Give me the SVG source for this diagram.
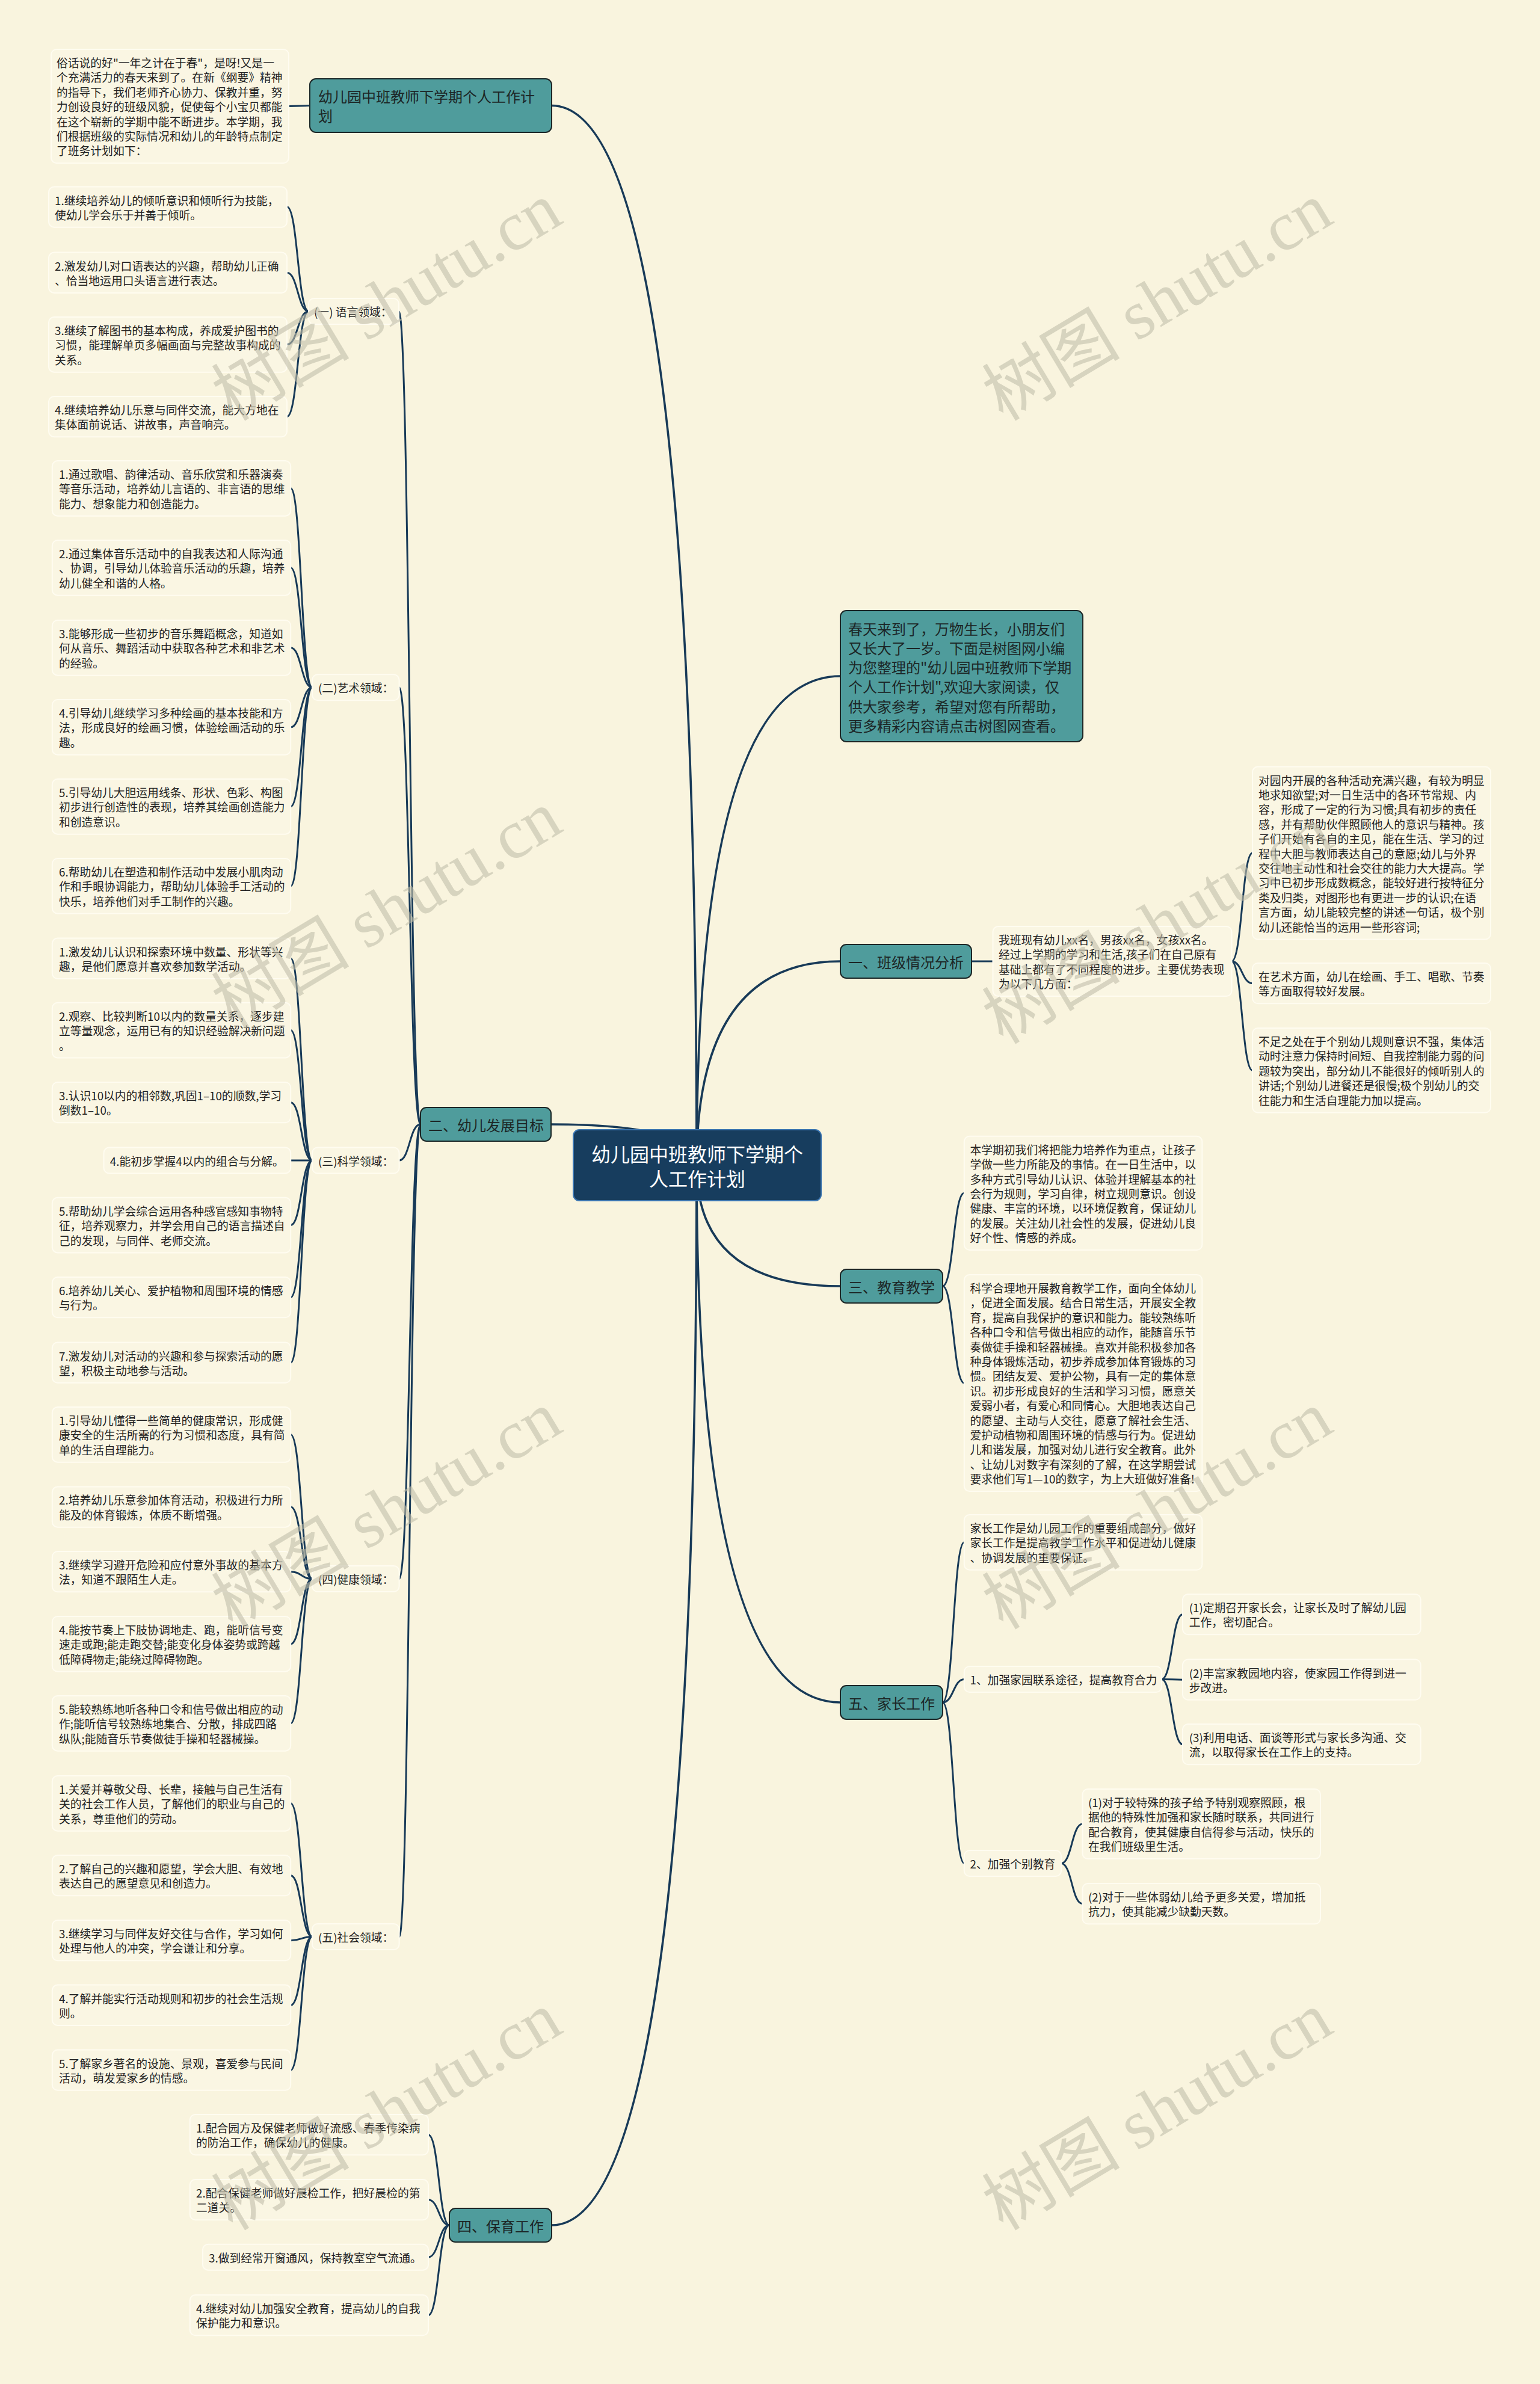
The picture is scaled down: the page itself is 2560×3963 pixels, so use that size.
<svg xmlns="http://www.w3.org/2000/svg" width="2560" height="3963" viewBox="0 0 2560 3963">
<style>
text{font-family:"Noto Sans CJK SC","Liberation Sans",sans-serif;dominant-baseline:central}
.bg{fill:#f9f4de}
.lf rect{fill:#faf6e3;stroke:#fffcf0;stroke-width:2}
.lf text{font-size:18.8px;fill:#222}
.mn rect{fill:#4f9c9c;stroke:#1c2626;stroke-width:2}
.mn text{font-size:24px;fill:#1c2626}
.rt rect{fill:#173d5e;stroke:#3a74b0;stroke-width:2}
.rt text{font-size:32px;fill:#fff;text-anchor:middle}
.cn path{fill:none;stroke:#183a58;stroke-width:3;stroke-linecap:round}
.cn .tk{stroke-width:3.6}
.wm text{font-family:"Liberation Serif","Noto Sans CJK SC",serif;font-size:115px;fill:#c2bfab;opacity:0.6;text-anchor:middle;dominant-baseline:auto}
</style>
<rect class="bg" x="0" y="0" width="2560" height="3963"/>

<g class="cn" id="connectors">
<path class="tk" d="M1158 1937 Q1158 175.5 917 175.5"/>
<path class="tk" d="M1158 1937 Q1158 1124 1397 1124"/>
<path class="tk" d="M1158 1937 Q1158 1598 1397 1598"/>
<path class="tk" d="M1158 1937 Q1158 1869 916 1869"/>
<path class="tk" d="M1158 1937 Q1158 2138 1397 2138"/>
<path class="tk" d="M1158 1937 Q1158 2830 1397 2830"/>
<path class="tk" d="M1158 1937 Q1158 3699 917 3699"/>
<path d="M515 175.5 L480 176.6"/>
<path d="M513 517.5 C495 517.5 495 343.65 477 343.65"/>
<path d="M513 517.5 C495 517.5 495 453.25 477 453.25"/>
<path d="M513 517.5 C495 517.5 495 572.85 477 572.85"/>
<path d="M513 517.5 C495 517.5 495 692.65 477 692.65"/>
<path d="M519 1142.8 C501 1142.8 501 811.85 483.2 811.85"/>
<path d="M519 1142.8 C501 1142.8 501 943.85 483.2 943.85"/>
<path d="M519 1142.8 C501 1142.8 501 1076.85 483.2 1076.85"/>
<path d="M519 1142.8 C501 1142.8 501 1208.85 483.2 1208.85"/>
<path d="M519 1142.8 C501 1142.8 501 1340.85 483.2 1340.85"/>
<path d="M519 1142.8 C501 1142.8 501 1472.85 483.2 1472.85"/>
<path d="M519 1929 C501 1929 501 1593.25 483.2 1593.25"/>
<path d="M519 1929 C501 1929 501 1712.55 483.2 1712.55"/>
<path d="M519 1929 C501 1929 501 1832.65 483.2 1832.65"/>
<path d="M519 1929 L483.2 1929"/>
<path d="M519 1929 C501 1929 501 2036.55 483.2 2036.55"/>
<path d="M519 1929 C501 1929 501 2156.65 483.2 2156.65"/>
<path d="M519 1929 C501 1929 501 2265.15 483.2 2265.15"/>
<path d="M519 2624.5 C501 2624.5 501 2384.85 483.2 2384.85"/>
<path d="M519 2624.5 C501 2624.5 501 2505.05 483.2 2505.05"/>
<path d="M519 2624.5 C501 2624.5 501 2612.65 483.2 2612.65"/>
<path d="M519 2624.5 C501 2624.5 501 2732.85 483.2 2732.85"/>
<path d="M519 2624.5 C501 2624.5 501 2864.85 483.2 2864.85"/>
<path d="M519 3219.5 C501 3219.5 501 2997.85 483.2 2997.85"/>
<path d="M519 3219.5 C501 3219.5 501 3117.65 483.2 3117.65"/>
<path d="M519 3219.5 C501 3219.5 501 3225.65 483.2 3225.65"/>
<path d="M519 3219.5 C501 3219.5 501 3333.25 483.2 3333.25"/>
<path d="M519 3219.5 C501 3219.5 501 3441.15 483.2 3441.15"/>
<path d="M699 1869 C681 1869 681 517.5 663 517.5"/>
<path d="M699 1869 C681 1869 681 1142.8 663.6 1142.8"/>
<path d="M699 1869 C681 1869 681 1929 663.6 1929"/>
<path d="M699 1869 C681 1869 681 2624.5 663.6 2624.5"/>
<path d="M699 1869 C681 1869 681 3219.5 663.6 3219.5"/>
<path d="M747 3699 C729.5 3699 729.5 3548.65 712 3548.65"/>
<path d="M747 3699 C729.5 3699 729.5 3656.65 712 3656.65"/>
<path d="M747 3699 C729.5 3699 729.5 3752.2 712 3752.2"/>
<path d="M747 3699 C729.5 3699 729.5 3848.65 712 3848.65"/>
<path d="M1615 1598 L1650.5 1598"/>
<path d="M2047.4 1598 C2064.7 1598 2064.7 1418.05 2082 1418.05"/>
<path d="M2047.4 1598 C2064.7 1598 2064.7 1634.65 2082 1634.65"/>
<path d="M2047.4 1598 C2064.7 1598 2064.7 1779.25 2082 1779.25"/>
<path d="M1567 2138 C1584.9 2138 1584.9 1983.35 1602.8 1983.35"/>
<path d="M1567 2138 C1584.9 2138 1584.9 2299.05 1602.8 2299.05"/>
<path d="M1567 2830 C1584.9 2830 1584.9 2563.85 1602.8 2563.85"/>
<path d="M1567 2830 C1584.9 2830 1584.9 2791.5 1602.8 2791.5"/>
<path d="M1567 2830 C1584.9 2830 1584.9 3097.5 1602.8 3097.5"/>
<path d="M1931 2791.5 C1948.5 2791.5 1948.5 2683.65 1966 2683.65"/>
<path d="M1931 2791.5 C1948.5 2791.5 1948.5 2792.15 1966 2792.15"/>
<path d="M1931 2791.5 C1948.5 2791.5 1948.5 2899.65 1966 2899.65"/>
<path d="M1764 3097.5 C1781.75 3097.5 1781.75 3032.05 1799.5 3032.05"/>
<path d="M1764 3097.5 C1781.75 3097.5 1781.75 3164.65 1799.5 3164.65"/>
</g>

<g id="root" class="rt">
<rect x="953" y="1878" width="412" height="118" rx="10"/>
<text x="1159" y="1917">幼儿园中班教师下学期个</text>
<text x="1159" y="1958">人工作计划</text>
</g>

<g id="b-title" class="mn">
<rect x="515" y="131" width="402" height="89" rx="10"/>
<text x="529" y="159">幼儿园中班教师下学期个人工作计</text>
<text x="529" y="191">划</text>
</g>
<g id="b-spring" class="mn">
<rect x="1397" y="1015" width="403" height="218" rx="10"/>
<text x="1410" y="1044.6">春天来到了，万物生长，小朋友们</text>
<text x="1410" y="1076.7">又长大了一岁。下面是树图网小编</text>
<text x="1410" y="1108.8">为您整理的"幼儿园中班教师下学期</text>
<text x="1410" y="1140.9">个人工作计划",欢迎大家阅读，仅</text>
<text x="1410" y="1173">供大家参考，希望对您有所帮助，</text>
<text x="1410" y="1205.1">更多精彩内容请点击树图网查看。</text>
</g>
<g id="b-1" class="mn"><rect x="1397" y="1570" width="218" height="56" rx="10"/><text x="1410" y="1598">一、班级情况分析</text></g>
<g id="b-2" class="mn"><rect x="699" y="1841" width="217" height="56" rx="10"/><text x="712" y="1869">二、幼儿发展目标</text></g>
<g id="b-3" class="mn"><rect x="1397" y="2110" width="170" height="56" rx="10"/><text x="1410" y="2138">三、教育教学</text></g>
<g id="b-5" class="mn"><rect x="1397" y="2802" width="170" height="56" rx="10"/><text x="1410" y="2830">五、家长工作</text></g>
<g id="b-4" class="mn"><rect x="747" y="3671" width="170" height="56" rx="10"/><text x="760" y="3699">四、保育工作</text></g>

<g id="intro" class="lf"><rect x="85" y="82" width="395" height="189.3" rx="9"/>
<text x="94" y="103.5">俗话说的好"一年之计在于春"，是呀!又是一</text>
<text x="94" y="127.9">个充满活力的春天来到了。在新《纲要》精神</text>
<text x="94" y="152.3">的指导下，我们老师齐心协力、保教并重，努</text>
<text x="94" y="176.7">力创设良好的班级风貌，促使每个小宝贝都能</text>
<text x="94" y="201.1">在这个崭新的学期中能不断进步。本学期，我</text>
<text x="94" y="225.5">们根据班级的实际情况和幼儿的年龄特点制定</text>
<text x="94" y="249.9">了班务计划如下：</text></g>

<g id="s-lang" class="lf"><rect x="513" y="496" width="150" height="43" rx="9"/><text x="522" y="517.5">(一) 语言领域：</text></g>
<g id="lang1" class="lf"><rect x="81" y="310.5" width="396" height="67.3" rx="9"/>
<text x="91" y="332">1.继续培养幼儿的倾听意识和倾听行为技能，</text>
<text x="91" y="356.4">使幼儿学会乐于并善于倾听。</text></g>
<g id="lang2" class="lf"><rect x="81" y="419.6" width="396" height="67.3" rx="9"/>
<text x="91" y="441.1">2.激发幼儿对口语表达的兴趣，帮助幼儿正确</text>
<text x="91" y="465.5">、恰当地运用口头语言进行表达。</text></g>
<g id="lang3" class="lf"><rect x="81" y="527" width="396" height="91.7" rx="9"/>
<text x="91" y="548.5">3.继续了解图书的基本构成，养成爱护图书的</text>
<text x="91" y="572.9">习惯，能理解单页多幅画面与完整故事构成的</text>
<text x="91" y="597.3">关系。</text></g>
<g id="lang4" class="lf"><rect x="81" y="659" width="396" height="67.3" rx="9"/>
<text x="91" y="680.5">4.继续培养幼儿乐意与同伴交流，能大方地在</text>
<text x="91" y="704.9">集体面前说话、讲故事，声音响亮。</text></g>

<g id="s-art" class="lf"><rect x="519" y="1121.3" width="144.6" height="43" rx="9"/><text x="529" y="1142.8">(二)艺术领域：</text></g>
<g id="art1" class="lf"><rect x="86.8" y="766" width="396.4" height="91.7" rx="9"/>
<text x="98" y="787.5">1.通过歌唱、韵律活动、音乐欣赏和乐器演奏</text>
<text x="98" y="811.9">等音乐活动，培养幼儿言语的、非言语的思维</text>
<text x="98" y="836.3">能力、想象能力和创造能力。</text></g>
<g id="art2" class="lf"><rect x="86.8" y="898" width="396.4" height="91.7" rx="9"/>
<text x="98" y="919.5">2.通过集体音乐活动中的自我表达和人际沟通</text>
<text x="98" y="943.9">、协调，引导幼儿体验音乐活动的乐趣，培养</text>
<text x="98" y="968.3">幼儿健全和谐的人格。</text></g>
<g id="art3" class="lf"><rect x="86.8" y="1031" width="396.4" height="91.7" rx="9"/>
<text x="98" y="1052.5">3.能够形成一些初步的音乐舞蹈概念，知道如</text>
<text x="98" y="1076.9">何从音乐、舞蹈活动中获取各种艺术和非艺术</text>
<text x="98" y="1101.3">的经验。</text></g>
<g id="art4" class="lf"><rect x="86.8" y="1163" width="396.4" height="91.7" rx="9"/>
<text x="98" y="1184.5">4.引导幼儿继续学习多种绘画的基本技能和方</text>
<text x="98" y="1208.9">法，形成良好的绘画习惯，体验绘画活动的乐</text>
<text x="98" y="1233.3">趣。</text></g>
<g id="art5" class="lf"><rect x="86.8" y="1295" width="396.4" height="91.7" rx="9"/>
<text x="98" y="1316.5">5.引导幼儿大胆运用线条、形状、色彩、构图</text>
<text x="98" y="1340.9">初步进行创造性的表现，培养其绘画创造能力</text>
<text x="98" y="1365.3">和创造意识。</text></g>
<g id="art6" class="lf"><rect x="86.8" y="1427" width="396.4" height="91.7" rx="9"/>
<text x="98" y="1448.5">6.帮助幼儿在塑造和制作活动中发展小肌肉动</text>
<text x="98" y="1472.9">作和手眼协调能力，帮助幼儿体验手工活动的</text>
<text x="98" y="1497.3">快乐，培养他们对手工制作的兴趣。</text></g>

<g id="s-sci" class="lf"><rect x="519" y="1907.5" width="144.6" height="43" rx="9"/><text x="529" y="1929">(三)科学领域：</text></g>
<g id="sci1" class="lf"><rect x="86.8" y="1559.6" width="396.4" height="67.3" rx="9"/>
<text x="98" y="1581.1">1.激发幼儿认识和探索环境中数量、形状等兴</text>
<text x="98" y="1605.5">趣，是他们愿意并喜欢参加数学活动。</text></g>
<g id="sci2" class="lf"><rect x="86.8" y="1666.7" width="396.4" height="91.7" rx="9"/>
<text x="98" y="1688.2">2.观察、比较判断10以内的数量关系，逐步建</text>
<text x="98" y="1712.6">立等量观念，运用已有的知识经验解决新问题</text>
<text x="98" y="1737">。</text></g>
<g id="sci3" class="lf"><rect x="86.8" y="1799" width="396.4" height="67.3" rx="9"/>
<text x="98" y="1820.5">3.认识10以内的相邻数,巩固1–10的顺数,学习</text>
<text x="98" y="1844.9">倒数1–10。</text></g>
<g id="sci4" class="lf"><rect x="172.5" y="1907.5" width="310.7" height="43" rx="9"/>
<text x="182.8" y="1929">4.能初步掌握4以内的组合与分解。</text></g>
<g id="sci5" class="lf"><rect x="86.8" y="1990.7" width="396.4" height="91.7" rx="9"/>
<text x="98" y="2012.2">5.帮助幼儿学会综合运用各种感官感知事物特</text>
<text x="98" y="2036.6">征，培养观察力，并学会用自己的语言描述自</text>
<text x="98" y="2061">己的发现，与同伴、老师交流。</text></g>
<g id="sci6" class="lf"><rect x="86.8" y="2123" width="396.4" height="67.3" rx="9"/>
<text x="98" y="2144.5">6.培养幼儿关心、爱护植物和周围环境的情感</text>
<text x="98" y="2168.9">与行为。</text></g>
<g id="sci7" class="lf"><rect x="86.8" y="2231.5" width="396.4" height="67.3" rx="9"/>
<text x="98" y="2253">7.激发幼儿对活动的兴趣和参与探索活动的愿</text>
<text x="98" y="2277.4">望，积极主动地参与活动。</text></g>

<g id="s-hea" class="lf"><rect x="519" y="2603" width="144.6" height="43" rx="9"/><text x="529" y="2624.5">(四)健康领域：</text></g>
<g id="hea1" class="lf"><rect x="86.8" y="2339" width="396.4" height="91.7" rx="9"/>
<text x="98" y="2360.5">1.引导幼儿懂得一些简单的健康常识，形成健</text>
<text x="98" y="2384.9">康安全的生活所需的行为习惯和态度，具有简</text>
<text x="98" y="2409.3">单的生活自理能力。</text></g>
<g id="hea2" class="lf"><rect x="86.8" y="2471.4" width="396.4" height="67.3" rx="9"/>
<text x="98" y="2492.9">2.培养幼儿乐意参加体育活动，积极进行力所</text>
<text x="98" y="2517.3">能及的体育锻炼，体质不断增强。</text></g>
<g id="hea3" class="lf"><rect x="86.8" y="2579" width="396.4" height="67.3" rx="9"/>
<text x="98" y="2600.5">3.继续学习避开危险和应付意外事故的基本方</text>
<text x="98" y="2624.9">法，知道不跟陌生人走。</text></g>
<g id="hea4" class="lf"><rect x="86.8" y="2687" width="396.4" height="91.7" rx="9"/>
<text x="98" y="2708.5">4.能按节奏上下肢协调地走、跑，能听信号变</text>
<text x="98" y="2732.9">速走或跑;能走跑交替;能变化身体姿势或跨越</text>
<text x="98" y="2757.3">低障碍物走;能绕过障碍物跑。</text></g>
<g id="hea5" class="lf"><rect x="86.8" y="2819" width="396.4" height="91.7" rx="9"/>
<text x="98" y="2840.5">5.能较熟练地听各种口令和信号做出相应的动</text>
<text x="98" y="2864.9">作;能听信号较熟练地集合、分散，排成四路</text>
<text x="98" y="2889.3">纵队;能随音乐节奏做徒手操和轻器械操。</text></g>

<g id="s-soc" class="lf"><rect x="519" y="3198" width="144.6" height="43" rx="9"/><text x="529" y="3219.5">(五)社会领域：</text></g>
<g id="soc1" class="lf"><rect x="86.8" y="2952" width="396.4" height="91.7" rx="9"/>
<text x="98" y="2973.5">1.关爱并尊敬父母、长辈，接触与自己生活有</text>
<text x="98" y="2997.9">关的社会工作人员，了解他们的职业与自己的</text>
<text x="98" y="3022.3">关系，尊重他们的劳动。</text></g>
<g id="soc2" class="lf"><rect x="86.8" y="3084" width="396.4" height="67.3" rx="9"/>
<text x="98" y="3105.5">2.了解自己的兴趣和愿望，学会大胆、有效地</text>
<text x="98" y="3129.9">表达自己的愿望意见和创造力。</text></g>
<g id="soc3" class="lf"><rect x="86.8" y="3192" width="396.4" height="67.3" rx="9"/>
<text x="98" y="3213.5">3.继续学习与同伴友好交往与合作，学习如何</text>
<text x="98" y="3237.9">处理与他人的冲突，学会谦让和分享。</text></g>
<g id="soc4" class="lf"><rect x="86.8" y="3299.6" width="396.4" height="67.3" rx="9"/>
<text x="98" y="3321.1">4.了解并能实行活动规则和初步的社会生活规</text>
<text x="98" y="3345.5">则。</text></g>
<g id="soc5" class="lf"><rect x="86.8" y="3407.5" width="396.4" height="67.3" rx="9"/>
<text x="98" y="3429">5.了解家乡著名的设施、景观，喜爱参与民间</text>
<text x="98" y="3453.4">活动，萌发爱家乡的情感。</text></g>

<g id="bao1" class="lf"><rect x="315.7" y="3515" width="396.3" height="67.3" rx="9"/>
<text x="326" y="3536.5">1.配合园方及保健老师做好流感、春季传染病</text>
<text x="326" y="3560.9">的防治工作，确保幼儿的健康。</text></g>
<g id="bao2" class="lf"><rect x="315.7" y="3623" width="396.3" height="67.3" rx="9"/>
<text x="326" y="3644.5">2.配合保健老师做好晨检工作，把好晨检的第</text>
<text x="326" y="3668.9">二道关。</text></g>
<g id="bao3" class="lf"><rect x="337" y="3730.7" width="375" height="43" rx="9"/>
<text x="347" y="3752.2">3.做到经常开窗通风，保持教室空气流通。</text></g>
<g id="bao4" class="lf"><rect x="315.7" y="3815" width="396.3" height="67.3" rx="9"/>
<text x="326" y="3836.5">4.继续对幼儿加强安全教育，提高幼儿的自我</text>
<text x="326" y="3860.9">保护能力和意识。</text></g>

<g id="cls" class="lf"><rect x="1650.5" y="1540" width="397" height="116.1" rx="9"/>
<text x="1660" y="1561.5">我班现有幼儿xx名，男孩xx名，女孩xx名。</text>
<text x="1660" y="1585.9">经过上学期的学习和生活,孩子们在自己原有</text>
<text x="1660" y="1610.3">基础上都有了不同程度的进步。主要优势表现</text>
<text x="1660" y="1634.7">为以下几方面：</text></g>
<g id="clsA" class="lf"><rect x="2082" y="1274.6" width="396" height="286.9" rx="9"/>
<text x="2092" y="1296.1">对园内开展的各种活动充满兴趣，有较为明显</text>
<text x="2092" y="1320.5">地求知欲望;对一日生活中的各环节常规、内</text>
<text x="2092" y="1344.9">容，形成了一定的行为习惯;具有初步的责任</text>
<text x="2092" y="1369.3">感，并有帮助伙伴照顾他人的意识与精神。孩</text>
<text x="2092" y="1393.7">子们开始有各自的主见，能在生活、学习的过</text>
<text x="2092" y="1418.1">程中大胆与教师表达自己的意愿;幼儿与外界</text>
<text x="2092" y="1442.5">交往地主动性和社会交往的能力大大提高。学</text>
<text x="2092" y="1466.9">习中已初步形成数概念，能较好进行按特征分</text>
<text x="2092" y="1491.3">类及归类，对图形也有更进一步的认识;在语</text>
<text x="2092" y="1515.7">言方面，幼儿能较完整的讲述一句话，极个别</text>
<text x="2092" y="1540.1">幼儿还能恰当的运用一些形容词;</text></g>
<g id="clsB" class="lf"><rect x="2082" y="1601" width="396" height="67.3" rx="9"/>
<text x="2092" y="1622.5">在艺术方面，幼儿在绘画、手工、唱歌、节奏</text>
<text x="2092" y="1646.9">等方面取得较好发展。</text></g>
<g id="clsC" class="lf"><rect x="2082" y="1709" width="396" height="140.5" rx="9"/>
<text x="2092" y="1730.5">不足之处在于个别幼儿规则意识不强，集体活</text>
<text x="2092" y="1754.9">动时注意力保持时间短、自我控制能力弱的问</text>
<text x="2092" y="1779.3">题较为突出，部分幼儿不能很好的倾听别人的</text>
<text x="2092" y="1803.7">讲话;个别幼儿进餐还是很慢;极个别幼儿的交</text>
<text x="2092" y="1828.1">往能力和生活自理能力加以提高。</text></g>

<g id="edu1" class="lf"><rect x="1602.8" y="1888.7" width="395.6" height="189.3" rx="9"/>
<text x="1612.5" y="1910.2">本学期初我们将把能力培养作为重点，让孩子</text>
<text x="1612.5" y="1934.6">学做一些力所能及的事情。在一日生活中，以</text>
<text x="1612.5" y="1959">多种方式引导幼儿认识、体验并理解基本的社</text>
<text x="1612.5" y="1983.4">会行为规则，学习自律，树立规则意识。创设</text>
<text x="1612.5" y="2007.8">健康、丰富的环境，以环境促教育，保证幼儿</text>
<text x="1612.5" y="2032.2">的发展。关注幼儿社会性的发展，促进幼儿良</text>
<text x="1612.5" y="2056.6">好个性、情感的养成。</text></g>
<g id="edu2" class="lf"><rect x="1602.8" y="2119" width="395.6" height="360.1" rx="9"/>
<text x="1612.5" y="2140.5">科学合理地开展教育教学工作，面向全体幼儿</text>
<text x="1612.5" y="2164.9">，促进全面发展。结合日常生活，开展安全教</text>
<text x="1612.5" y="2189.3">育，提高自我保护的意识和能力。能较熟练听</text>
<text x="1612.5" y="2213.7">各种口令和信号做出相应的动作，能随音乐节</text>
<text x="1612.5" y="2238.1">奏做徒手操和轻器械操。喜欢并能积极参加各</text>
<text x="1612.5" y="2262.5">种身体锻炼活动，初步养成参加体育锻炼的习</text>
<text x="1612.5" y="2286.9">惯。团结友爱、爱护公物，具有一定的集体意</text>
<text x="1612.5" y="2311.3">识。初步形成良好的生活和学习习惯，愿意关</text>
<text x="1612.5" y="2335.7">爱弱小者，有爱心和同情心。大胆地表达自己</text>
<text x="1612.5" y="2360.1">的愿望、主动与人交往，愿意了解社会生活、</text>
<text x="1612.5" y="2384.5">爱护动植物和周围环境的情感与行为。促进幼</text>
<text x="1612.5" y="2408.9">儿和谐发展，加强对幼儿进行安全教育。此外</text>
<text x="1612.5" y="2433.3">、让幼儿对数字有深刻的了解，在这学期尝试</text>
<text x="1612.5" y="2457.7">要求他们写1—10的数字，为上大班做好准备!</text></g>

<g id="par1" class="lf"><rect x="1602.8" y="2518" width="395.6" height="91.7" rx="9"/>
<text x="1612.5" y="2539.5">家长工作是幼儿园工作的重要组成部分，做好</text>
<text x="1612.5" y="2563.9">家长工作是提高教学工作水平和促进幼儿健康</text>
<text x="1612.5" y="2588.3">、协调发展的重要保证。</text></g>
<g id="par2" class="lf"><rect x="1602.8" y="2770" width="328.2" height="43" rx="9"/>
<text x="1612.5" y="2791.5">1、加强家园联系途径，提高教育合力</text></g>
<g id="par2a" class="lf"><rect x="1966" y="2650" width="395.6" height="67.3" rx="9"/>
<text x="1976.7" y="2671.5">(1)定期召开家长会，让家长及时了解幼儿园</text>
<text x="1976.7" y="2695.9">工作，密切配合。</text></g>
<g id="par2b" class="lf"><rect x="1966" y="2758.5" width="395.6" height="67.3" rx="9"/>
<text x="1976.7" y="2780">(2)丰富家教园地内容，使家园工作得到进一</text>
<text x="1976.7" y="2804.4">步改进。</text></g>
<g id="par2c" class="lf"><rect x="1966" y="2866" width="395.6" height="67.3" rx="9"/>
<text x="1976.7" y="2887.5">(3)利用电话、面谈等形式与家长多沟通、交</text>
<text x="1976.7" y="2911.9">流，以取得家长在工作上的支持。</text></g>
<g id="par3" class="lf"><rect x="1602.8" y="3076" width="161.2" height="43" rx="9"/>
<text x="1612.5" y="3097.5">2、加强个别教育</text></g>
<g id="par3a" class="lf"><rect x="1799.5" y="2974" width="395.5" height="116.1" rx="9"/>
<text x="1809" y="2995.5">(1)对于较特殊的孩子给予特别观察照顾，根</text>
<text x="1809" y="3019.9">据他的特殊性加强和家长随时联系，共同进行</text>
<text x="1809" y="3044.3">配合教育，使其健康自信得参与活动，快乐的</text>
<text x="1809" y="3068.7">在我们班级里生活。</text></g>
<g id="par3b" class="lf"><rect x="1799.5" y="3131" width="395.5" height="67.3" rx="9"/>
<text x="1809" y="3152.5">(2)对于一些体弱幼儿给予更多关爱，增加抵</text>
<text x="1809" y="3176.9">抗力，使其能减少缺勤天数。</text></g>

<g class="wm">
<text x="645" y="540" transform="rotate(-31 645 505)">树图 shutu.cn</text>
<text x="1926" y="540" transform="rotate(-31 1926 505)">树图 shutu.cn</text>
<text x="645" y="1551" transform="rotate(-31 645 1516)">树图 shutu.cn</text>
<text x="1926" y="1576" transform="rotate(-31 1926 1541)">树图 shutu.cn</text>
<text x="645" y="2549" transform="rotate(-31 645 2514)">树图 shutu.cn</text>
<text x="1926" y="2549" transform="rotate(-31 1926 2514)">树图 shutu.cn</text>
<text x="645" y="3548" transform="rotate(-31 645 3513)">树图 shutu.cn</text>
<text x="1926" y="3548" transform="rotate(-31 1926 3513)">树图 shutu.cn</text>
</g>
</svg>
